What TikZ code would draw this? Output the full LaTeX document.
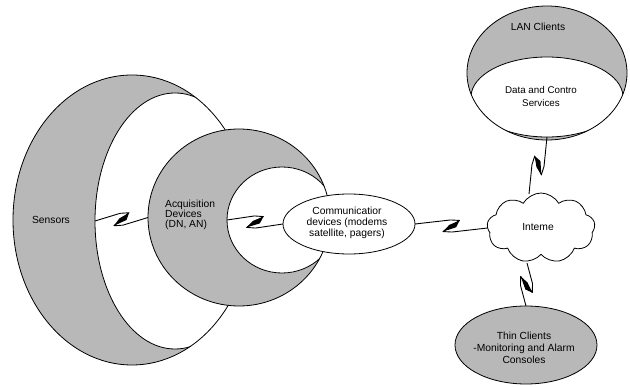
\documentclass[tikz,border=0pt]{standalone}
\usepackage{fontspec}
\setmainfont{Liberation Sans}
\usetikzlibrary{shapes.geometric,shapes.symbols,calc}

\definecolor{bandgrey}{RGB}{184,184,184}

\tikzset{
  rim/.style={draw=black, line width=0.8pt},
  txt/.style={font=\fontsize{10.3pt}{11pt}\selectfont, inner sep=0pt, align=center, text=black},
  band/.style={ellipse, rim, fill=bandgrey, inner sep=0pt, outer sep=0pt},
  bubble/.style={ellipse, rim, fill=white, inner sep=0pt, outer sep=0pt},
  wire/.style={line width=0.9pt, line join=round},
  net/.style={cloud, cloud puffs=9, cloud puff arc=120, aspect=1.5, rim, fill=white,
    inner sep=0pt, outer sep=0pt},
}

% a wireless link: straight lead-in, a bold Z, straight lead-out
\newcommand{\zigzap}[2]{%
  \coordinate (zM) at ($(#1)!0.5!(#2)$);
  \coordinate (zT1) at ($(zM)!-1pt!(#2)!6pt!90:(#2)$);
  \coordinate (zT2) at ($(zM)!8pt!(#2)!6pt!90:(#2)$);
  \coordinate (zB1) at ($(zM)!-8pt!(#2)!-6pt!90:(#2)$);
  \coordinate (zB2) at ($(zM)!1pt!(#2)!-6pt!90:(#2)$);
  \coordinate (zD) at ($(zM)!5pt!(#2)!-1pt!90:(#2)$);
  \coordinate (zE) at ($(zM)!-2pt!(#2)!1pt!90:(#2)$);
  \draw[wire] (#1) -- (zT1) -- (zT2) -- (zB1) -- (zB2) -- (#2);
  \fill (zT2) -- (zE) -- (zB1) -- (zD) -- cycle;
}

\begin{document}
\begin{tikzpicture}[x=1pt,y=-1pt]
\useasboundingbox (0,0) rectangle (630,387);

% sensor field: grey crescent with a white hollow
\node[band, minimum width=238pt, minimum height=290pt,
  path picture={
    \fill[white] ([shift={(43pt,-1pt)}]path picture bounding box.center)
      ellipse [x radius=80pt, y radius=128pt];
    \draw[rim] ([shift={(43pt,-1pt)}]path picture bounding box.center)
      ellipse [x radius=80pt, y radius=128pt];
  }] (sensors) at (132,220) {};
\coordinate (sensHole) at (95,221);

% acquisition devices crescent
\node[band, minimum width=182pt, minimum height=177pt,
  path picture={
    \fill[white] ([shift={(43pt,-2.5pt)}]path picture bounding box.center)
      ellipse [x radius=55pt, y radius=53pt];
    \draw[rim] ([shift={(43pt,-2.5pt)}]path picture bounding box.center)
      ellipse [x radius=55pt, y radius=53pt];
  }] (acq) at (239,217.5) {};
\coordinate (acqHole) at (227,220);

% communication devices
\node[bubble, minimum width=132pt, minimum height=60pt] (comm) at (349,224) {};

% LAN clients crescent
\node[band, minimum width=160pt, minimum height=134pt,
  path picture={
    \fill[white] ([shift={(0pt,-24pt)}]path picture bounding box.center)
      ellipse [x radius=76pt, y radius=40pt];
    \draw[rim] ([shift={(0pt,-24pt)}]path picture bounding box.center)
      ellipse [x radius=76pt, y radius=40pt];
  }] (lan) at (547,73) {};
\coordinate (lanHole) at (547,137);

% the internet
\node[net, minimum width=108pt, minimum height=70pt] (web) at (541,228) {};
\coordinate (webTop) at (529,194);
\coordinate (webBot) at (527,263);

% thin clients
\node[band, minimum width=142pt, minimum height=78pt] (thin) at (526,345) {};

% wireless links
\zigzap{sensHole}{acq.west}
\zigzap{acqHole}{comm.west}
\zigzap{comm.east}{web.west}
\zigzap{webTop}{lanHole}
\zigzap{webBot}{thin.north}

% labels
\node[txt] (tSensors) at (51,220) {Sensors};
\node[txt, align=left, anchor=west, font=\fontsize{10.3pt}{10pt}\selectfont] (tAcq) at (165,215) {Acquisition\\Devices\\(DN, AN)};
\node[txt] (tComm) at (347,222.5) {Communicatior\\devices (modems\\satellite, pagers)};
\node[txt] (tLan) at (538,27) {LAN Clients};
\node[txt, font=\fontsize{9.8pt}{13pt}\selectfont] (tData) at (541,97) {Data and Contro\\Services};
\node[txt] (tWeb) at (538,227) {Inteme};
\node[txt, font=\fontsize{10.3pt}{12pt}\selectfont] (tThin) at (524,348) {Thin Clients\\-Monitoring and Alarm\\Consoles};
\end{tikzpicture}
\end{document}
